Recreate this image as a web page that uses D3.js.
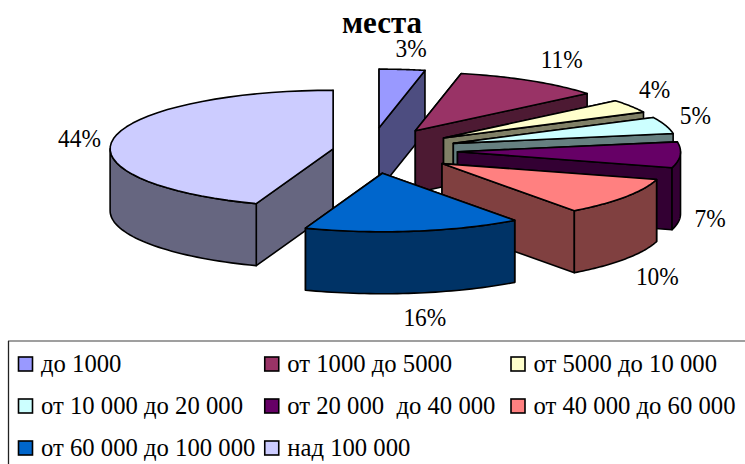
<!DOCTYPE html>
<html>
<head>
<meta charset="utf-8">
<script src="https://cdn.jsdelivr.net/npm/d3@7"></script>
<style>
    html, body { margin: 0; padding: 0; background: #fff; }
    svg { display: block; }
    text { font-family: "Liberation Serif", serif; fill: #000; white-space: pre; }
</style>
</head>
<body>
<svg id="chart" width="745" height="464"></svg>
<script>
const categories = ['до 1000', 'от 1000 до 5000', 'от 5000 до 10 000', 'от 10 000 до 20 000',
    'от 20 000  до 40 000', 'от 40 000 до 60 000', 'от 60 000 до 100 000', 'над 100 000'];
// they round to the printed percents
const shares = [3.3, 10.7, 3.7, 4.6, 7.1, 10.49, 15.71, 44.4];
const explosion = [0.393, 0.393, 0.393, 0.393, 0.393, 0.393, 0.393, 0.168];
const colors = ['#9999ff', '#993366', '#ffffcc', '#ccffff', '#660066', '#ff8080', '#0066cc', '#ccccff'];
const titleText = 'места';

// label nudges from the slice rim, picked by eye
const labelDx = [9, 31, 24, 30, 30, 32, 11, -34];
const labelDy = [-21, -22, -17, -10, 1, 17, 24, -1];
// painting order, back to front
const paintOrder = [0, 7, 1, 2, 3, 4, 5, 6];

const width = 745;
const height = 464;
const cx = 370, cy = 150.5;
const rx = 223, ry = 58.5;
const depth = 62;

const svg = d3.select('#chart');

const pie = d3.pie().sort(null).value(d => d)(shares);

const slices = pie.map((p, i) => {
    const mid = (p.startAngle + p.endAngle) / 2;
    return {
        i,
        a0: p.startAngle,
        a1: p.endAngle,
        mid,
        ox: cx + explosion[i] * rx * Math.sin(mid),
        oy: cy - explosion[i] * ry * Math.cos(mid)
    };
});

const rimX = (s, a) => s.ox + rx * Math.sin(a);
const rimY = (s, a) => s.oy - ry * Math.cos(a);
const line = d3.line();

function rimPoints(s, a0, a1, dy) {
    return d3.range(0, 41).map(k => {
        const a = a0 + (a1 - a0) * k / 40;
        return [rimX(s, a), rimY(s, a) + dy];
    });
}

function halfTone(c) {
    const rgb = d3.rgb(c);
    return d3.rgb(rgb.r / 2, rgb.g / 2, rgb.b / 2).formatHex();
}

const pieGroup = svg.append('g')
    .attr('stroke', '#000')
    .attr('stroke-width', 1.6)
    .attr('stroke-linejoin', 'round');

paintOrder.forEach(i => {
    const s = slices[i];
    const g = pieGroup.append('g');
    const wall = halfTone(colors[i]);

    // radial walls
    [s.a0, s.a1].forEach(a => {
        g.append('path')
            .attr('d', line([
                [s.ox, s.oy], [rimX(s, a), rimY(s, a)],
                [rimX(s, a), rimY(s, a) + depth], [s.ox, s.oy + depth]
            ]) + 'Z')
            .attr('fill', wall);
    });

    // outer wall, only the part that faces the viewer
    const from = Math.max(s.a0, Math.PI / 2);
    const to = Math.min(s.a1, Math.PI * 1.5);
    if (from < to) {
        const pts = rimPoints(s, from, to, 0).concat(rimPoints(s, to, from, depth));
        g.append('path').attr('d', line(pts) + 'Z').attr('fill', wall);
    }

    // top face
    g.append('path')
        .attr('d', line([[s.ox, s.oy]].concat(rimPoints(s, s.a0, s.a1, 0))) + 'Z')
        .attr('fill', colors[i]);
});

// percent labels, squeezed like the source
svg.append('g').selectAll('text')
    .data(slices)
    .join('text')
    .attr('transform', s => {
        const x = rimX(s, s.mid) + labelDx[s.i];
        const y = rimY(s, s.mid) + (Math.cos(s.mid) < 0 ? depth : 0) + labelDy[s.i] + 9;
        return `translate(${x},${y}) scale(0.9,1)`;
    })
    .attr('text-anchor', 'middle')
    .attr('font-size', 26)
    .text(s => d3.format('.0f')(shares[s.i]) + '%');

svg.append('text')
    .attr('x', 382)
    .attr('y', 33)
    .attr('text-anchor', 'middle')
    .attr('font-size', 31)
    .attr('font-weight', 'bold')
    .text(titleText);

// legend
const colX = d3.scalePoint().domain([0, 1, 2]).range([18.5, 511]);
const rowY = d3.scalePoint().domain([0, 1, 2]).range([364, 448]);

svg.append('line')
    .attr('x1', 8).attr('x2', width)
    .attr('y1', 341).attr('y2', 341)
    .attr('stroke', '#7f7f7f')
    .attr('stroke-width', 1.6);

svg.append('line')
    .attr('x1', 8.5).attr('x2', 8.5)
    .attr('y1', 341).attr('y2', height)
    .attr('stroke', '#222')
    .attr('stroke-width', 1.3);

const legend = svg.append('g').selectAll('g')
    .data(categories)
    .join('g')
    .attr('transform', (d, i) => `translate(${colX(i % 3)},${rowY(Math.floor(i / 3))})`);

legend.append('rect')
    .attr('x', 0)
    .attr('y', -7)
    .attr('width', 14)
    .attr('height', 14)
    .attr('fill', (d, i) => colors[i])
    .attr('stroke', '#000')
    .attr('stroke-width', 1.6);

legend.append('text')
    .attr('transform', 'translate(22.5,8) scale(0.95,1)')
    .attr('font-size', 26)
    .text(d => d);
</script>
</body>
</html>
